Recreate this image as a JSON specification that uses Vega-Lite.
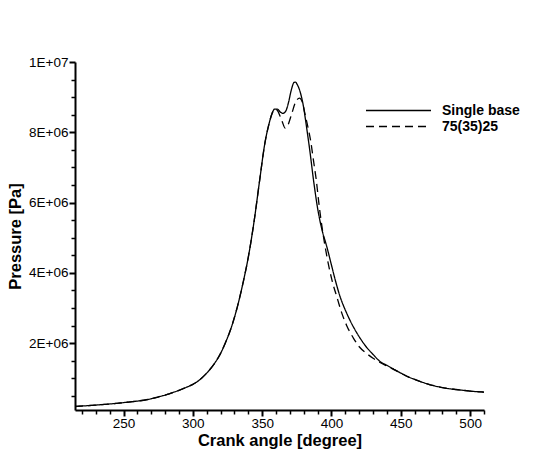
{
  "$schema": "https://vega.github.io/schema/vega-lite/v6.json",
  "width": 409,
  "height": 348,
  "autosize": {"type": "none"},
  "padding": {"left": 75, "top": 62, "right": 60, "bottom": 48},
  "background": "white",
  "config": {
    "font": "Liberation Sans",
    "view": {"stroke": null},
    "axis": {"grid": false, "labelColor": "black", "titleColor": "black", "domainColor": "black", "tickColor": "black", "labelFontSize": 13.5, "titleFontSize": 16.5, "titleFontWeight": "bold", "labelFlush": false, "labelOverlap": false}
  },
  "datasets": {"curves": [
    {"angle": 215, "p": 200000, "series": "Single base"},
    {"angle": 230, "p": 240000, "series": "Single base"},
    {"angle": 250, "p": 310000, "series": "Single base"},
    {"angle": 270, "p": 420000, "series": "Single base"},
    {"angle": 285, "p": 590000, "series": "Single base"},
    {"angle": 290, "p": 660000, "series": "Single base"},
    {"angle": 295, "p": 740000, "series": "Single base"},
    {"angle": 300, "p": 830000, "series": "Single base"},
    {"angle": 305, "p": 960000, "series": "Single base"},
    {"angle": 310, "p": 1150000, "series": "Single base"},
    {"angle": 315, "p": 1390000, "series": "Single base"},
    {"angle": 320, "p": 1710000, "series": "Single base"},
    {"angle": 324, "p": 2060000, "series": "Single base"},
    {"angle": 328, "p": 2480000, "series": "Single base"},
    {"angle": 332, "p": 3020000, "series": "Single base"},
    {"angle": 336, "p": 3680000, "series": "Single base"},
    {"angle": 340, "p": 4450000, "series": "Single base"},
    {"angle": 344, "p": 5420000, "series": "Single base"},
    {"angle": 348, "p": 6580000, "series": "Single base"},
    {"angle": 352, "p": 7700000, "series": "Single base"},
    {"angle": 355, "p": 8250000, "series": "Single base"},
    {"angle": 357, "p": 8520000, "series": "Single base"},
    {"angle": 359, "p": 8660000, "series": "Single base"},
    {"angle": 361, "p": 8660000, "series": "Single base"},
    {"angle": 363, "p": 8580000, "series": "Single base"},
    {"angle": 365, "p": 8540000, "series": "Single base"},
    {"angle": 367, "p": 8600000, "series": "Single base"},
    {"angle": 369, "p": 8850000, "series": "Single base"},
    {"angle": 371, "p": 9200000, "series": "Single base"},
    {"angle": 373, "p": 9420000, "series": "Single base"},
    {"angle": 374, "p": 9430000, "series": "Single base"},
    {"angle": 375, "p": 9380000, "series": "Single base"},
    {"angle": 377, "p": 9200000, "series": "Single base"},
    {"angle": 379.8, "p": 8730000, "series": "Single base"},
    {"angle": 382, "p": 8150000, "series": "Single base"},
    {"angle": 384.6, "p": 7410000, "series": "Single base"},
    {"angle": 387, "p": 6650000, "series": "Single base"},
    {"angle": 390.6, "p": 5700000, "series": "Single base"},
    {"angle": 393, "p": 5250000, "series": "Single base"},
    {"angle": 396.6, "p": 4750000, "series": "Single base"},
    {"angle": 400, "p": 4220000, "series": "Single base"},
    {"angle": 402.7, "p": 3800000, "series": "Single base"},
    {"angle": 406, "p": 3350000, "series": "Single base"},
    {"angle": 411, "p": 2850000, "series": "Single base"},
    {"angle": 416, "p": 2450000, "series": "Single base"},
    {"angle": 420.7, "p": 2140000, "series": "Single base"},
    {"angle": 425, "p": 1900000, "series": "Single base"},
    {"angle": 430, "p": 1680000, "series": "Single base"},
    {"angle": 435, "p": 1480000, "series": "Single base"},
    {"angle": 440, "p": 1370000, "series": "Single base"},
    {"angle": 445, "p": 1260000, "series": "Single base"},
    {"angle": 450, "p": 1150000, "series": "Single base"},
    {"angle": 455, "p": 1050000, "series": "Single base"},
    {"angle": 460, "p": 970000, "series": "Single base"},
    {"angle": 467, "p": 870000, "series": "Single base"},
    {"angle": 474, "p": 790000, "series": "Single base"},
    {"angle": 481, "p": 730000, "series": "Single base"},
    {"angle": 488, "p": 690000, "series": "Single base"},
    {"angle": 495, "p": 660000, "series": "Single base"},
    {"angle": 502, "p": 630000, "series": "Single base"},
    {"angle": 510, "p": 610000, "series": "Single base"},
    {"angle": 215, "p": 200000, "series": "75(35)25"},
    {"angle": 230, "p": 240000, "series": "75(35)25"},
    {"angle": 250, "p": 310000, "series": "75(35)25"},
    {"angle": 270, "p": 420000, "series": "75(35)25"},
    {"angle": 285, "p": 590000, "series": "75(35)25"},
    {"angle": 290, "p": 660000, "series": "75(35)25"},
    {"angle": 295, "p": 740000, "series": "75(35)25"},
    {"angle": 300, "p": 830000, "series": "75(35)25"},
    {"angle": 305, "p": 960000, "series": "75(35)25"},
    {"angle": 310, "p": 1150000, "series": "75(35)25"},
    {"angle": 315, "p": 1390000, "series": "75(35)25"},
    {"angle": 320, "p": 1710000, "series": "75(35)25"},
    {"angle": 324, "p": 2060000, "series": "75(35)25"},
    {"angle": 328, "p": 2480000, "series": "75(35)25"},
    {"angle": 332, "p": 3020000, "series": "75(35)25"},
    {"angle": 336, "p": 3680000, "series": "75(35)25"},
    {"angle": 340, "p": 4450000, "series": "75(35)25"},
    {"angle": 344, "p": 5420000, "series": "75(35)25"},
    {"angle": 348, "p": 6580000, "series": "75(35)25"},
    {"angle": 352, "p": 7700000, "series": "75(35)25"},
    {"angle": 355, "p": 8250000, "series": "75(35)25"},
    {"angle": 357, "p": 8520000, "series": "75(35)25"},
    {"angle": 359, "p": 8660000, "series": "75(35)25"},
    {"angle": 361, "p": 8620000, "series": "75(35)25"},
    {"angle": 363, "p": 8450000, "series": "75(35)25"},
    {"angle": 364.5, "p": 8300000, "series": "75(35)25"},
    {"angle": 366.6, "p": 8120000, "series": "75(35)25"},
    {"angle": 368.5, "p": 8200000, "series": "75(35)25"},
    {"angle": 371.4, "p": 8540000, "series": "75(35)25"},
    {"angle": 374, "p": 8850000, "series": "75(35)25"},
    {"angle": 376.9, "p": 8970000, "series": "75(35)25"},
    {"angle": 379, "p": 8850000, "series": "75(35)25"},
    {"angle": 381, "p": 8500000, "series": "75(35)25"},
    {"angle": 383, "p": 8150000, "series": "75(35)25"},
    {"angle": 385, "p": 7750000, "series": "75(35)25"},
    {"angle": 387, "p": 7200000, "series": "75(35)25"},
    {"angle": 389, "p": 6650000, "series": "75(35)25"},
    {"angle": 391, "p": 5950000, "series": "75(35)25"},
    {"angle": 393, "p": 5350000, "series": "75(35)25"},
    {"angle": 395.4, "p": 4750000, "series": "75(35)25"},
    {"angle": 400.3, "p": 3800000, "series": "75(35)25"},
    {"angle": 404, "p": 3300000, "series": "75(35)25"},
    {"angle": 407.5, "p": 2850000, "series": "75(35)25"},
    {"angle": 411, "p": 2500000, "series": "75(35)25"},
    {"angle": 415.9, "p": 2140000, "series": "75(35)25"},
    {"angle": 420, "p": 1900000, "series": "75(35)25"},
    {"angle": 425, "p": 1720000, "series": "75(35)25"},
    {"angle": 430, "p": 1570000, "series": "75(35)25"},
    {"angle": 435, "p": 1450000, "series": "75(35)25"},
    {"angle": 440, "p": 1350000, "series": "75(35)25"},
    {"angle": 445, "p": 1250000, "series": "75(35)25"},
    {"angle": 450, "p": 1150000, "series": "75(35)25"},
    {"angle": 455, "p": 1050000, "series": "75(35)25"},
    {"angle": 460, "p": 970000, "series": "75(35)25"},
    {"angle": 467, "p": 870000, "series": "75(35)25"},
    {"angle": 474, "p": 790000, "series": "75(35)25"},
    {"angle": 481, "p": 730000, "series": "75(35)25"},
    {"angle": 488, "p": 690000, "series": "75(35)25"},
    {"angle": 495, "p": 660000, "series": "75(35)25"},
    {"angle": 502, "p": 630000, "series": "75(35)25"},
    {"angle": 510, "p": 610000, "series": "75(35)25"}
  ]},
  "data": {"name": "curves"},
  "resolve": {"axis": {"x": "independent", "y": "independent"}},
  "layer": [
    {
      "mark": {"type": "point", "opacity": 0, "size": 0},
      "encoding": {
        "x": {"field": "angle", "type": "quantitative", "scale": {"domain": [215, 510], "nice": false, "zero": false},
          "axis": {"orient": "bottom", "values": [220,230,240,260,270,280,290,310,320,330,340,360,370,380,390,410,420,430,440,460,470,480,490,510], "tickSize": 4, "tickWidth": 1.5, "labels": false, "domain": false, "title": null}},
        "y": {"field": "p", "type": "quantitative", "scale": {"domain": [100000, 10000000], "nice": false, "zero": false},
          "axis": {"orient": "left", "values": [500000,1000000,1500000,2500000,3000000,3500000,4500000,5000000,5500000,6500000,7000000,7500000,8500000,9000000,9500000], "tickSize": 4, "tickWidth": 1.5, "labels": false, "domain": false, "title": null}}
      }
    },
    {
      "mark": {"type": "line", "color": "black", "strokeWidth": 1.3, "interpolate": "monotone"},
      "encoding": {
        "x": {"field": "angle", "type": "quantitative", "scale": {"domain": [215, 510], "nice": false, "zero": false},
          "axis": {"orient": "bottom", "values": [250,300,350,400,450,500], "tickSize": 6, "tickWidth": 2, "domainWidth": 2, "labelPadding": 0, "title": "Crank angle [degree]", "titlePadding": 3}},
        "y": {"field": "p", "type": "quantitative", "scale": {"domain": [100000, 10000000], "nice": false, "zero": false},
          "axis": {"orient": "left", "values": [2000000,4000000,6000000,8000000,10000000], "tickSize": 6, "tickWidth": 2, "domainWidth": 2, "labelPadding": 1, "labelExpr": "datum.value == 10000000 ? '1E+07' : format(datum.value/1000000, 'd') + 'E+06'", "title": "Pressure [Pa]", "titlePadding": 5}},
        "strokeDash": {"field": "series", "type": "nominal",
          "scale": {"domain": ["Single base", "75(35)25"], "range": [[1, 0], [8, 5]]},
          "legend": {"orient": "none", "legendX": 291, "legendY": 41, "title": null, "padding": 0, "labelFontSize": 14, "labelFontWeight": "bold", "labelColor": "black", "symbolType": "M -5 0 L 5 0", "symbolSize": 169, "symbolStrokeWidth": 1.3, "symbolStrokeColor": "black", "symbolOffset": 25, "labelOffset": 36, "rowPadding": 1}}
      }
    }
  ]
}
